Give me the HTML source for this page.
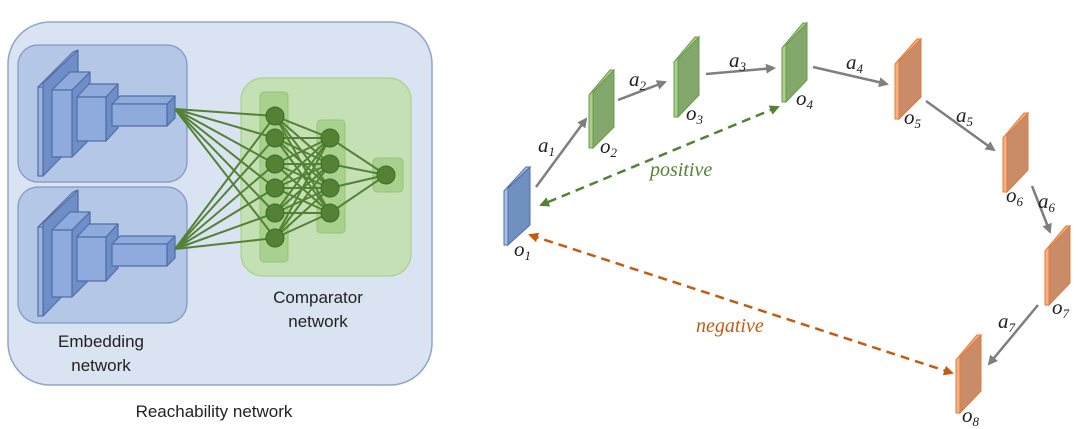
<!DOCTYPE html>
<html><head><meta charset="utf-8"><style>
html,body{margin:0;padding:0;background:#fff;}
svg{display:block;}
</style></head><body>
<svg width="1080" height="429" viewBox="0 0 1080 429" xmlns="http://www.w3.org/2000/svg">
<defs>
<marker id="ag" viewBox="0 0 10 10" refX="8" refY="5" markerWidth="4" markerHeight="4" orient="auto-start-reverse"><path d="M0,0 L10,5 L0,10 z" fill="#7f7f7f"/></marker>
<marker id="agr" viewBox="0 0 10 10" refX="8" refY="5" markerWidth="4" markerHeight="4" orient="auto-start-reverse"><path d="M0,0 L10,5 L0,10 z" fill="#548235"/></marker>
<marker id="aor" viewBox="0 0 10 10" refX="8" refY="5" markerWidth="4" markerHeight="4" orient="auto-start-reverse"><path d="M0,0 L10,5 L0,10 z" fill="#c55a11"/></marker>
<g id="cnn" stroke="#4f6fa5" stroke-width="1.2" stroke-linejoin="round">
  <polygon points="43,83 78,50 78,140 43,176" fill="#6f8dc6"/>
  <polygon points="38,87 73,52 78,50 43,83" fill="#9db5e0"/>
  <rect x="38" y="87" width="5" height="89" fill="#9db5e0"/>
  <polygon points="72,90 90,72 90,139 72,157" fill="#6f8dc6"/>
  <polygon points="52,90 70,72 90,72 72,90" fill="#8faadc"/>
  <rect x="52" y="90" width="20" height="67" fill="#8faadc"/>
  <polygon points="106,97 118,84 118,128 106,141" fill="#6f8dc6"/>
  <polygon points="77,97 89,84 118,84 106,97" fill="#8faadc"/>
  <rect x="77" y="97" width="29" height="44" fill="#8faadc"/>
  <polygon points="167,104 175,96 175,118 167,126" fill="#6f8dc6"/>
  <polygon points="112,104 120,96 175,96 167,104" fill="#8faadc"/>
  <rect x="112" y="104" width="55" height="22" fill="#8faadc"/>
</g>
</defs>
<!-- left -->
<rect x="8" y="22" width="424" height="363" rx="42" fill="#dae3f1" stroke="#8fa6c9" stroke-width="1.5"/>
<rect x="18" y="45" width="169" height="137" rx="20" fill="#b4c7e7" stroke="#7f97c0" stroke-width="1.2"/>
<rect x="18" y="187" width="169" height="136" rx="20" fill="#b4c7e7" stroke="#7f97c0" stroke-width="1.2"/>
<use href="#cnn"/>
<use href="#cnn" transform="translate(0,140)"/>
<rect x="241" y="78" width="170" height="198" rx="22" fill="#c5e0b4" stroke="#a9d18e" stroke-width="1.2"/>
<rect x="260" y="92" width="28" height="170" rx="4" fill="#a9d18e" stroke="#93c47d" stroke-width="1"/>
<rect x="317" y="120" width="28" height="113" rx="4" fill="#a9d18e" stroke="#93c47d" stroke-width="1"/>
<rect x="373" y="158" width="30" height="34" rx="4" fill="#a9d18e" stroke="#93c47d" stroke-width="1"/>
<g stroke="#548235" stroke-width="2">
<line x1="175" y1="109" x2="275" y2="116"/><line x1="175" y1="109" x2="275" y2="138"/><line x1="175" y1="109" x2="275" y2="164"/><line x1="175" y1="109" x2="275" y2="188"/><line x1="175" y1="109" x2="275" y2="213"/><line x1="175" y1="109" x2="275" y2="238"/>
<line x1="175" y1="249" x2="275" y2="116"/><line x1="175" y1="249" x2="275" y2="138"/><line x1="175" y1="249" x2="275" y2="164"/><line x1="175" y1="249" x2="275" y2="188"/><line x1="175" y1="249" x2="275" y2="213"/><line x1="175" y1="249" x2="275" y2="238"/>
<g id="l2">
<line x1="275" y1="116" x2="330" y2="138"/><line x1="275" y1="116" x2="330" y2="164"/><line x1="275" y1="116" x2="330" y2="188"/><line x1="275" y1="116" x2="330" y2="213"/>
<line x1="275" y1="138" x2="330" y2="138"/><line x1="275" y1="138" x2="330" y2="164"/><line x1="275" y1="138" x2="330" y2="188"/><line x1="275" y1="138" x2="330" y2="213"/>
<line x1="275" y1="164" x2="330" y2="138"/><line x1="275" y1="164" x2="330" y2="164"/><line x1="275" y1="164" x2="330" y2="188"/><line x1="275" y1="164" x2="330" y2="213"/>
<line x1="275" y1="188" x2="330" y2="138"/><line x1="275" y1="188" x2="330" y2="164"/><line x1="275" y1="188" x2="330" y2="188"/><line x1="275" y1="188" x2="330" y2="213"/>
<line x1="275" y1="213" x2="330" y2="138"/><line x1="275" y1="213" x2="330" y2="164"/><line x1="275" y1="213" x2="330" y2="188"/><line x1="275" y1="213" x2="330" y2="213"/>
<line x1="275" y1="238" x2="330" y2="138"/><line x1="275" y1="238" x2="330" y2="164"/><line x1="275" y1="238" x2="330" y2="188"/><line x1="275" y1="238" x2="330" y2="213"/>
</g>
<line x1="330" y1="138" x2="386" y2="175"/><line x1="330" y1="164" x2="386" y2="175"/><line x1="330" y1="188" x2="386" y2="175"/><line x1="330" y1="213" x2="386" y2="175"/>
</g>
<g fill="#548235" stroke="#3f6a2a" stroke-width="1">
<circle cx="275" cy="116" r="9"/><circle cx="275" cy="138" r="9"/><circle cx="275" cy="164" r="9"/><circle cx="275" cy="188" r="9"/><circle cx="275" cy="213" r="9"/><circle cx="275" cy="238" r="9"/>
<circle cx="330" cy="138" r="9"/><circle cx="330" cy="164" r="9"/><circle cx="330" cy="188" r="9"/><circle cx="330" cy="213" r="9"/>
<circle cx="386" cy="175" r="9"/>
</g>
<g font-family="Liberation Sans, sans-serif" font-size="17" fill="#222" text-anchor="middle">
<text x="318" y="303">Comparator</text><text x="318" y="327">network</text>
<text x="101" y="347">Embedding</text><text x="101" y="371">network</text>
<text x="214" y="417">Reachability network</text>
</g>
<!-- right panels -->
<g stroke-width="1">
<g fill="#7090c0" stroke="#4f6fa5"><polygon points="508,188 530,167 530,225 508,245"/><polygon points="504,191 526,167 530,167 508,188 508,245 504,245" fill="#a8c0ea"/></g>
<g fill="#84a86b" stroke="#6a9a4a">
<polygon points="593,92 614,70 614,127 593,148"/><polygon points="589,95 610,70 614,70 593,92 593,148 589,148" fill="#a9d18e"/>
<polygon points="678,59 699,37 699,95 678,117"/><polygon points="674,62 695,37 699,37 678,59 678,117 674,117" fill="#a9d18e"/>
<polygon points="786,45 807,23 807,80 786,102"/><polygon points="782,48 803,23 807,23 786,45 786,102 782,102" fill="#a9d18e"/>
</g>
<g fill="#c98b68" stroke="#e07a3a">
<polygon points="899,61 921,39 921,97 899,119"/><polygon points="895,64 917,39 921,39 899,61 899,119 895,119" fill="#f4b183"/>
<polygon points="1007,135 1028,113 1028,170 1007,192"/><polygon points="1003,138 1024,113 1028,113 1007,135 1007,192 1003,192" fill="#f4b183"/>
<polygon points="1049,248 1070,226 1070,283 1049,305"/><polygon points="1045,251 1066,226 1070,226 1049,248 1049,305 1045,305" fill="#f4b183"/>
<polygon points="960,357 981,335 981,391 960,413"/><polygon points="956,360 977,335 981,335 960,357 960,413 956,413" fill="#f4b183"/>
</g>
</g>
<g stroke="#7f7f7f" stroke-width="2.5" marker-end="url(#ag)">
<line x1="536" y1="187" x2="586" y2="119"/>
<line x1="618" y1="100" x2="665" y2="82"/>
<line x1="706" y1="74" x2="774" y2="68"/>
<line x1="813" y1="67" x2="887" y2="84"/>
<line x1="926" y1="101" x2="994" y2="150"/>
<line x1="1032" y1="186" x2="1050" y2="232"/>
<line x1="1038" y1="305" x2="989" y2="364"/>
</g>
<line x1="778" y1="107" x2="541" y2="205" stroke="#548235" stroke-width="2.5" stroke-dasharray="9,6" marker-start="url(#agr)" marker-end="url(#agr)"/>
<line x1="530" y1="235" x2="952" y2="373" stroke="#c55a11" stroke-width="2.5" stroke-dasharray="9,6" marker-start="url(#aor)" marker-end="url(#aor)"/>
<g font-family="Liberation Serif, serif" font-style="italic" fill="#222" font-size="21">
<text x="538" y="152">a<tspan font-size="13" dy="4">1</tspan></text>
<text x="629" y="86">a<tspan font-size="13" dy="4">2</tspan></text>
<text x="729" y="67">a<tspan font-size="13" dy="4">3</tspan></text>
<text x="846" y="69">a<tspan font-size="13" dy="4">4</tspan></text>
<text x="956" y="122">a<tspan font-size="13" dy="4">5</tspan></text>
<text x="1038" y="208">a<tspan font-size="13" dy="4">6</tspan></text>
<text x="998" y="328">a<tspan font-size="13" dy="4">7</tspan></text>
<text x="514" y="256">o<tspan font-size="13" dy="4">1</tspan></text>
<text x="600" y="153">o<tspan font-size="13" dy="4">2</tspan></text>
<text x="686" y="120">o<tspan font-size="13" dy="4">3</tspan></text>
<text x="796" y="105">o<tspan font-size="13" dy="4">4</tspan></text>
<text x="904" y="124">o<tspan font-size="13" dy="4">5</tspan></text>
<text x="1006" y="202">o<tspan font-size="13" dy="4">6</tspan></text>
<text x="1052" y="314">o<tspan font-size="13" dy="4">7</tspan></text>
<text x="962" y="422">o<tspan font-size="13" dy="4">8</tspan></text>
<text x="650" y="176" fill="#548235" font-size="20">positive</text>
<text x="696" y="332" fill="#c55a11" font-size="20">negative</text>
</g>
</svg>
</body></html>
